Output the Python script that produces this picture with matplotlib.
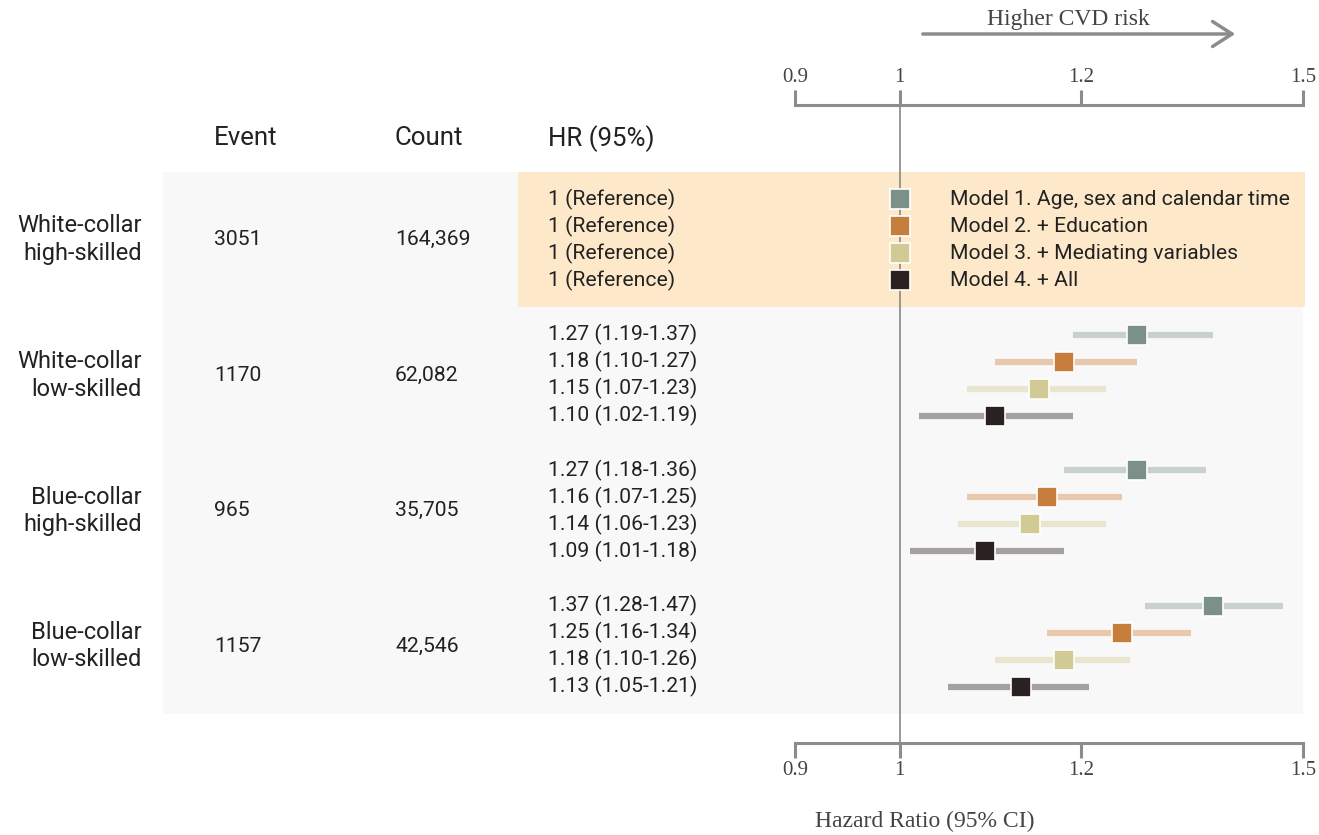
import numpy as np
import matplotlib
matplotlib.use('Agg')
import matplotlib.pyplot as plt
from matplotlib.patches import Rectangle, FancyArrowPatch
from matplotlib.transforms import blended_transform_factory

# occupational groups and per-group table values
groups = ['White-collar\nhigh-skilled', 'White-collar\nlow-skilled',
          'Blue-collar\nhigh-skilled', 'Blue-collar\nlow-skilled']
events = ['3051', '1170', '965', '1157']
counts = ['164,369', '62,082', '35,705', '42,546']

models = ['Model 1. Age, sex and calendar time', 'Model 2. + Education',
          'Model 3. + Mediating variables', 'Model 4. + All']
model_colors = ['#7b9088', '#c77d3b', '#d1ca94', '#2a2221']
ci_colors = ['#c9d1cd', '#e9c9ab', '#e9e6d0', '#a6a1a1']

# hazard ratios and 95% CI, rows = group, cols = model
hr = np.array([[1.00, 1.00, 1.00, 1.00],
               [1.27, 1.18, 1.15, 1.10],
               [1.27, 1.16, 1.14, 1.09],
               [1.37, 1.25, 1.18, 1.13]])
lo = np.array([[np.nan] * 4,
               [1.19, 1.10, 1.07, 1.02],
               [1.18, 1.07, 1.06, 1.01],
               [1.28, 1.16, 1.10, 1.05]])
hi = np.array([[np.nan] * 4,
               [1.37, 1.27, 1.23, 1.19],
               [1.36, 1.25, 1.23, 1.18],
               [1.47, 1.34, 1.26, 1.21]])

xticks = [0.9, 1, 1.2, 1.5]
xticklabels = ['0.9', '1', '1.2', '1.5']

plt.rcParams['font.family'] = 'Liberation Serif'
sans = 'Roboto'
txt_col = '#222222'
axis_col = '#8c8c8c'
serif_col = '#444444'
fs_row = 15.2
fs_head = 18.6

W, H = 1319, 835
fig = plt.figure(figsize=(W / 100, H / 100), dpi=100)
ax = fig.add_axes([795 / W, 1 - 714 / H, 508 / W, 542 / H])
ax.set_facecolor('none')

trans = blended_transform_factory(fig.transFigure, ax.transData)

# table backgrounds
ax.add_patch(Rectangle((163 / W, -1), (1303 - 163) / W, 20, transform=trans,
                       facecolor='#f8f8f8', edgecolor='none', zorder=0, clip_on=False))
ax.add_patch(Rectangle((518 / W, -1), (1305 - 518) / W, 4.97, transform=trans,
                       facecolor='#fde9c9', edgecolor='none', zorder=0.5, clip_on=False))

# forest plot
for g in range(4):
    for m in range(4):
        y = g * 5 + m
        if not np.isnan(lo[g, m]):
            ax.plot([lo[g, m], hi[g, m]], [y, y], color=ci_colors[m], lw=4.5,
                    solid_capstyle='butt', zorder=2)
            lab = '%.2f (%.2f-%.2f)' % (hr[g, m], lo[g, m], hi[g, m])
        else:
            lab = '1 (Reference)'
        ax.plot(hr[g, m], y, 's', ms=14, color=model_colors[m], mec='white',
                mew=1.2, zorder=3)
        ax.text(548 / W, y, lab, transform=trans, fontsize=fs_row, family=sans,
                color=txt_col, va='center', ha='left')
    yc = g * 5 + 1.5
    ax.text(142 / W, yc, groups[g], transform=trans, fontsize=17, family=sans,
            color=txt_col, va='center', ha='right', multialignment='right',
            linespacing=1.25)
    ax.text(214 / W, yc, events[g], transform=trans, fontsize=fs_row, family=sans,
            color=txt_col, va='center', ha='left')
    ax.text(395 / W, yc, counts[g], transform=trans, fontsize=fs_row, family=sans,
            color=txt_col, va='center', ha='left')

# legend labels next to the reference markers
for m in range(4):
    ax.text(950 / W, m, models[m], transform=trans, fontsize=fs_row, family=sans,
            color=txt_col, va='center', ha='left')

# column headers
for xpix, h in [(214, 'Event'), (395, 'Count'), (548, 'HR (95%)')]:
    ax.text(xpix / W, -2.25, h, transform=trans, fontsize=fs_head, family=sans,
            color=txt_col, va='center', ha='left')

ax.set_xscale('log')
ax.set_xlim(0.9, 1.5)
ax.set_ylim(19, -1)
ax.set_yticks([])

# bracket axes on top and bottom
ax.set_xticks(xticks)
ax.set_xticklabels(xticklabels)
ax.xaxis.set_minor_locator(matplotlib.ticker.NullLocator())
ax.tick_params(axis='x', which='major', top=True, labeltop=True, bottom=True,
               labelbottom=True, direction='out', color=axis_col, width=2.2,
               labelsize=15, labelcolor=serif_col, pad=2)
ax.tick_params(axis='x', which='major', bottom=True, length=11)
for t in ax.xaxis.get_major_ticks():
    t.tick2line.set_markersize(14)
for s in ['left', 'right']:
    ax.spines[s].set_visible(False)
top_off, bot_off = 67, 29  # spine offsets in pixels
ax.spines['top'].set_position(('outward', top_off * 0.72))
ax.spines['bottom'].set_position(('outward', bot_off * 0.72))
for s in ['top', 'bottom']:
    ax.spines[s].set_color(axis_col)
    ax.spines[s].set_linewidth(2.2)

# reference line at HR = 1
ax.plot([1, 1], [-bot_off / 542, 1 + top_off / 542], transform=ax.get_xaxis_transform(),
        color='#888888', lw=1.2, clip_on=False, zorder=1)

fig.text(925 / W, 1 - 821 / H, 'Hazard Ratio (95% CI)', fontsize=17,
         color=serif_col, ha='center', va='center')

# direction arrow
fig.patches.append(FancyArrowPatch(
    (920 / W, 1 - 34 / H), (1238 / W, 1 - 34 / H), transform=fig.transFigure,
    arrowstyle='->,head_length=0.7,head_width=0.45', color=axis_col, lw=2.5,
    mutation_scale=20))
fig.text(1068 / W, 1 - 20 / H, 'Higher CVD risk', fontsize=17,
         color=serif_col, ha='center', va='center')

fig.savefig('out.png', dpi=100, facecolor='white')
